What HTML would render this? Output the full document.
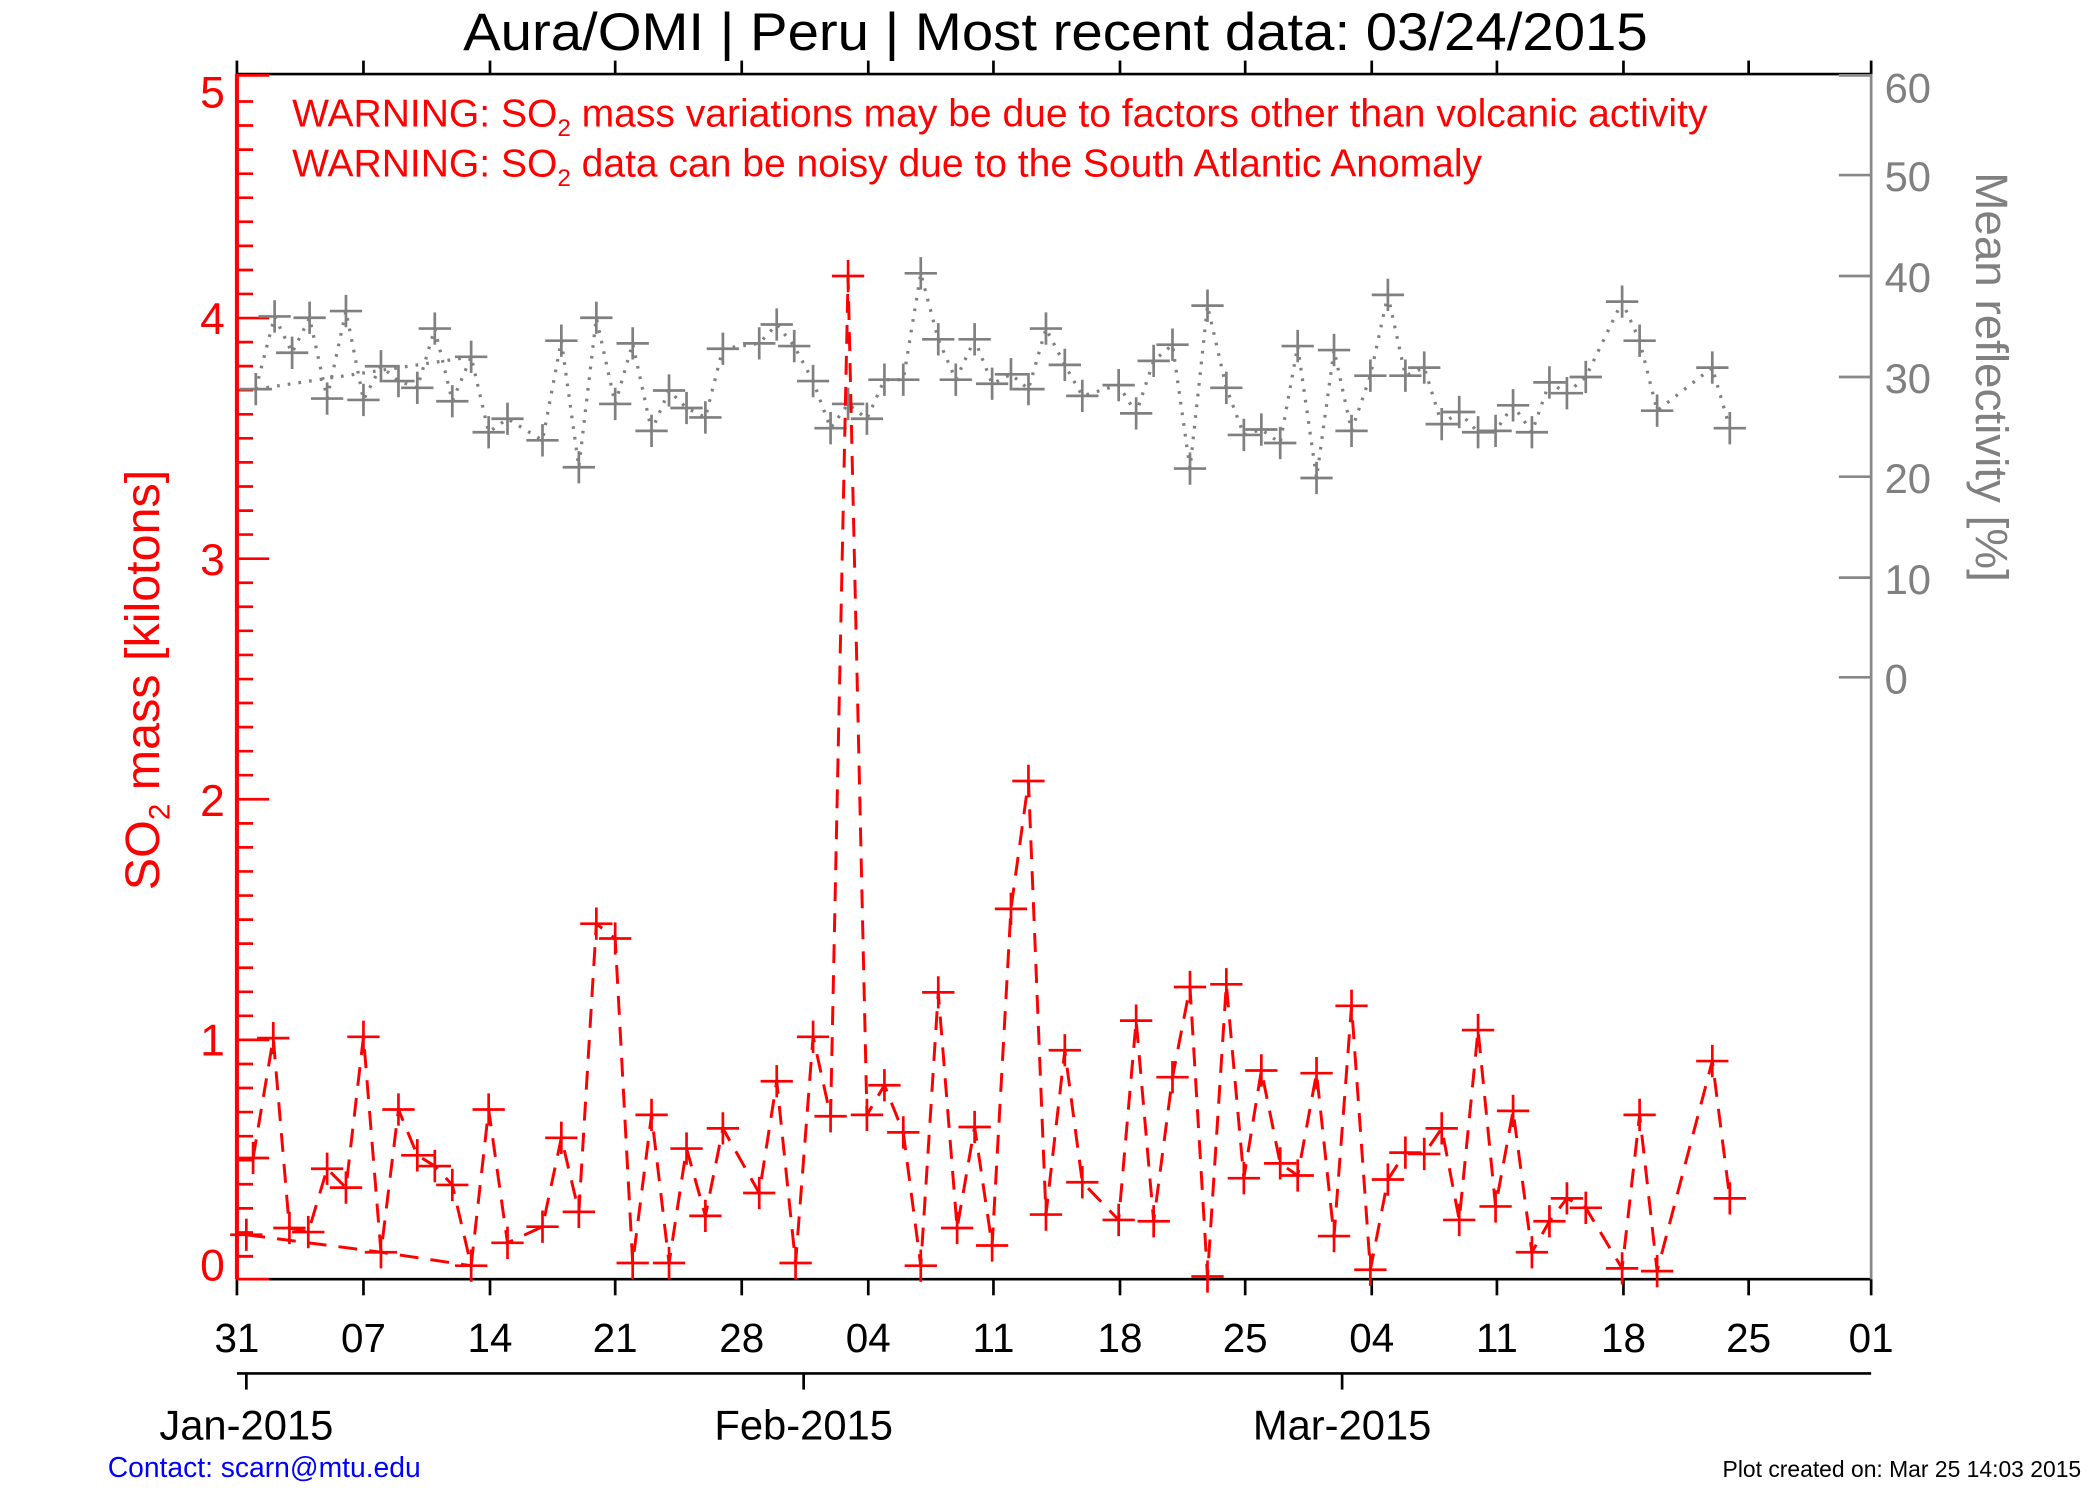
<!DOCTYPE html>
<html><head><meta charset="utf-8"><style>
html,body{margin:0;padding:0;background:#fff;}
svg{display:block;}
text{font-family:"Liberation Sans",sans-serif;}
</style></head><body>
<svg width="2100" height="1500" viewBox="0 0 1560 1114" preserveAspectRatio="none" xmlns="http://www.w3.org/2000/svg">
<text x="784" y="37" font-size="39" text-anchor="middle" fill="#000" textLength="880" lengthAdjust="spacingAndGlyphs">Aura/OMI | Peru | Most recent data: 03/24/2015</text>
<!-- top axis -->
<line x1="176" y1="55" x2="1390" y2="55" stroke="#000" stroke-width="2"/>
<g stroke="#000" stroke-width="2">
<line x1="176" y1="45" x2="176" y2="55"/><line x1="270" y1="45" x2="270" y2="55"/><line x1="364" y1="45" x2="364" y2="55"/><line x1="457" y1="45" x2="457" y2="55"/><line x1="551" y1="45" x2="551" y2="55"/><line x1="645" y1="45" x2="645" y2="55"/><line x1="738" y1="45" x2="738" y2="55"/><line x1="832" y1="45" x2="832" y2="55"/><line x1="925" y1="45" x2="925" y2="55"/><line x1="1019" y1="45" x2="1019" y2="55"/><line x1="1112" y1="45" x2="1112" y2="55"/><line x1="1206" y1="45" x2="1206" y2="55"/><line x1="1299" y1="45" x2="1299" y2="55"/><line x1="1390" y1="45" x2="1390" y2="55"/>
</g>
<!-- bottom axis -->
<line x1="176" y1="950" x2="1390" y2="950" stroke="#000" stroke-width="2"/>
<g stroke="#000" stroke-width="2">
<line x1="176" y1="950" x2="176" y2="962"/><line x1="270" y1="950" x2="270" y2="962"/><line x1="364" y1="950" x2="364" y2="962"/><line x1="457" y1="950" x2="457" y2="962"/><line x1="551" y1="950" x2="551" y2="962"/><line x1="645" y1="950" x2="645" y2="962"/><line x1="738" y1="950" x2="738" y2="962"/><line x1="832" y1="950" x2="832" y2="962"/><line x1="925" y1="950" x2="925" y2="962"/><line x1="1019" y1="950" x2="1019" y2="962"/><line x1="1112" y1="950" x2="1112" y2="962"/><line x1="1206" y1="950" x2="1206" y2="962"/><line x1="1299" y1="950" x2="1299" y2="962"/><line x1="1390" y1="950" x2="1390" y2="962"/>
</g>
<g font-size="30" text-anchor="middle" fill="#000">
<text x="176" y="1004">31</text><text x="270" y="1004">07</text><text x="364" y="1004">14</text><text x="457" y="1004">21</text><text x="551" y="1004">28</text><text x="645" y="1004">04</text><text x="738" y="1004">11</text><text x="832" y="1004">18</text><text x="925" y="1004">25</text><text x="1019" y="1004">04</text><text x="1112" y="1004">11</text><text x="1206" y="1004">18</text><text x="1299" y="1004">25</text><text x="1390" y="1004">01</text>
</g>
<line x1="176" y1="1020" x2="1390" y2="1020" stroke="#000" stroke-width="2"/>
<g stroke="#000" stroke-width="2"><line x1="183" y1="1020" x2="183" y2="1032"/><line x1="597" y1="1020" x2="597" y2="1032"/><line x1="997" y1="1020" x2="997" y2="1032"/></g>
<g font-size="31" text-anchor="middle" fill="#000"><text x="183" y="1069">Jan-2015</text><text x="597" y="1069">Feb-2015</text><text x="997" y="1069">Mar-2015</text></g>
<text x="80" y="1097" font-size="21" fill="#0000ff">Contact: scarn@mtu.edu</text>
<text x="1546" y="1097" font-size="17" text-anchor="end" fill="#000">Plot created on: Mar 25 14:03 2015</text>
<!-- right axis -->
<line x1="1390" y1="55" x2="1390" y2="950" stroke="#888" stroke-width="2"/>
<g stroke="#888" stroke-width="2">
<line x1="1366" y1="56" x2="1390" y2="56"/><line x1="1366" y1="130" x2="1390" y2="130"/><line x1="1366" y1="205" x2="1390" y2="205"/><line x1="1366" y1="280" x2="1390" y2="280"/><line x1="1366" y1="354" x2="1390" y2="354"/><line x1="1366" y1="429" x2="1390" y2="429"/><line x1="1366" y1="503" x2="1390" y2="503"/>
</g>
<g font-size="31" fill="#808080"><text x="1400" y="76">60</text><text x="1400" y="142">50</text><text x="1400" y="217">40</text><text x="1400" y="292">30</text><text x="1400" y="366">20</text><text x="1400" y="441">10</text><text x="1400" y="515">0</text></g>
<text transform="translate(1468,280) rotate(90)" font-size="34" text-anchor="middle" fill="#808080">Mean reflectivity [%]</text>
<!-- left axis -->
<line x1="176" y1="55" x2="176" y2="950" stroke="#f00" stroke-width="3"/>
<line x1="176" y1="950" x2="200" y2="950" stroke="#f00" stroke-width="2"/>
<line x1="176" y1="56" x2="200" y2="56" stroke="#f00" stroke-width="2"/>
<g id="tk" stroke="#f00" stroke-width="2"></g>
<g font-size="33" fill="#f00" text-anchor="end"><text x="167" y="80">5</text><text x="167" y="248">4</text><text x="167" y="427">3</text><text x="167" y="606">2</text><text x="167" y="784">1</text><text x="167" y="951">0</text></g>
<text transform="translate(118,505) rotate(-90)" font-size="36" text-anchor="middle" fill="#f00">SO<tspan font-size="22" dy="8">2</tspan><tspan dy="-8"> mass [kilotons]</tspan></text>
<g font-size="29" fill="#f00">
<text x="217" y="94">WARNING: SO<tspan font-size="18" dy="7">2</tspan><tspan dy="-7"> mass variations may be due to factors other than volcanic activity</tspan></text>
<text x="217" y="131">WARNING: SO<tspan font-size="18" dy="7">2</tspan><tspan dy="-7"> data can be noisy due to the South Atlantic Anomaly</tspan></text>
</g>
<g id="series"></g>
</svg>
<script>
var tk=document.getElementById('tk'),s='';
for(var i=1;i<50;i++){var y=951-i*17.87;if(y<60)break;var L=(i%10==0)?24:12;s+='<line x1="176" y1="'+y.toFixed(1)+'" x2="'+(176+L)+'" y2="'+y.toFixed(1)+'"/>';}
s+='<line x1="176" y1="933" x2="188" y2="933"/>';
tk.innerHTML=s;
var gray=[[190,289],[204,235],[217,262],[230,236],[243,296],[257,231],[270,297],[283,272],[296,283],[310,288],[323,244],[336,298],[350,265],[363,321],[377,311],[403,327],[417,253],[430,347],[443,236],[457,300],[470,255],[484,320],[497,290],[510,303],[524,310],[537,259],[564,255],[577,241],[590,257],[604,283],[617,318],[630,300],[644,311],[657,282],[671,282],[684,203],[697,252],[710,282],[724,252],[737,285],[751,278],[764,289],[777,244],[791,271],[804,294],[831,286],[844,307],[857,268],[871,256],[884,348],[897,227],[911,288],[924,323],[937,319],[951,329],[964,257],[978,355],[991,260],[1004,320],[1018,279],[1031,219],[1044,279],[1058,273],[1071,315],[1084,306],[1098,321],[1111,320],[1124,301],[1138,321],[1151,284],[1164,292],[1178,280],[1205,224],[1218,253],[1231,305],[1272,273],[1285,318]];
var red=[[188,860],[203,771],[215,912],[229,915],[243,868],[257,882],[270,770],[283,930],[296,824],[310,858],[323,866],[336,880],[350,940],[363,824],[377,923],[403,911],[417,845],[430,900],[443,686],[457,697],[470,938],[484,828],[497,938],[510,853],[524,903],[537,838],[564,886],[577,803],[591,938],[604,770],[617,829],[630,205],[644,828],[657,806],[671,841],[684,940],[697,737],[711,912],[724,837],[737,925],[751,675],[764,580],[777,902],[791,780],[804,878],[831,906],[844,758],[857,907],[871,800],[884,733],[897,948],[911,731],[924,875],[937,795],[951,864],[964,873],[978,797],[991,918],[1004,747],[1018,943],[1031,876],[1044,856],[1058,857],[1071,838],[1084,906],[1098,765],[1111,896],[1124,825],[1138,930],[1151,907],[1164,890],[1178,897],[1205,942],[1218,828],[1231,944],[1272,788],[1285,890]];
function pl(a,c,d,w){return '<polyline fill="none" stroke="'+c+'" stroke-width="'+w+'" stroke-dasharray="'+d+'" points="'+a.map(function(p){return p.join(',')}).join(' ')+'"/>';}
function mk(a,c){var r='';a.forEach(function(p){r+='<path d="M'+(p[0]-12)+' '+p[1]+'h24M'+p[0]+' '+(p[1]-12)+'v24" stroke="'+c+'" stroke-width="2" fill="none"/>';});return r;}
var h='';
h+=pl([[190,289],[350,265]],'#808080','2,6',2.4)+pl(gray,'#808080','2,6',2.4)+mk(gray,'#808080');
h+=pl([[183,917],[283,930],[350,940]],'#f00','14,9',2.2)+pl(red,'#f00','14,9',2.2)+mk(red,'#f00')+mk([[183,917]],'#f00');
document.getElementById('series').innerHTML=h;
</script>
</body></html>
